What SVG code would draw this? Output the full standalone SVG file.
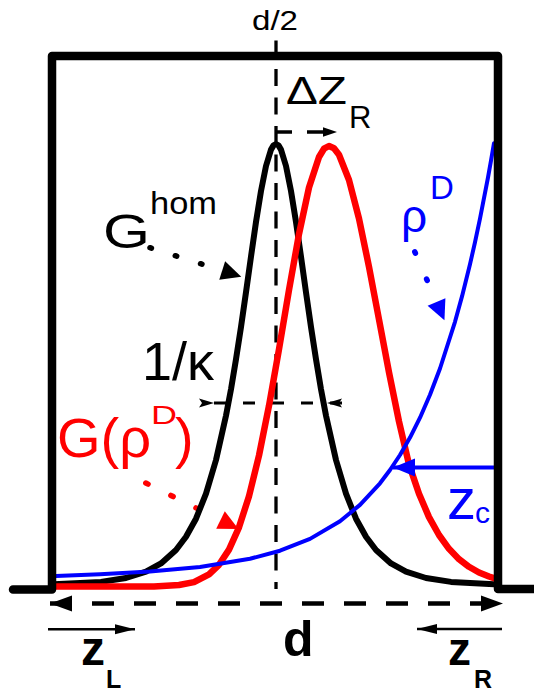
<svg xmlns="http://www.w3.org/2000/svg" width="534" height="693" viewBox="0 0 534 693">
<style>
text{font-family:"Liberation Sans",Arial,sans-serif}
.k{fill:#000}.r{fill:#ff0000}.b{fill:#0000ff}
.bold{font-weight:bold}
.curve{fill:none;stroke-linejoin:round;stroke-linecap:round}
.dash{fill:none;stroke:#000}
.dots{fill:none;stroke-width:5.5;stroke-linecap:round}
</style>
<defs>
<marker id="ahK" markerUnits="userSpaceOnUse" markerWidth="24" markerHeight="24" viewBox="-2 -12 24 24" refX="0" refY="0" orient="auto"><path d="M0,-9.7 L20,0 L0,9.7 Z" fill="#000"/></marker>
<marker id="ahR" markerUnits="userSpaceOnUse" markerWidth="24" markerHeight="24" viewBox="-2 -12 24 24" refX="0" refY="0" orient="auto"><path d="M0,-9.7 L20,0 L0,9.7 Z" fill="#ff0000"/></marker>
<marker id="ahB" markerUnits="userSpaceOnUse" markerWidth="24" markerHeight="24" viewBox="-2 -12 24 24" refX="0" refY="0" orient="auto"><path d="M0,-9.7 L20,0 L0,9.7 Z" fill="#0000ff"/></marker>
<marker id="ahBt" markerUnits="userSpaceOnUse" markerWidth="26" markerHeight="22" viewBox="0 -11 26 22" refX="22" refY="0" orient="auto"><path d="M0,-9 L22,0 L0,9 Z" fill="#0000ff"/></marker>
<marker id="ahD" markerUnits="userSpaceOnUse" markerWidth="26" markerHeight="20" viewBox="0 -10 26 20" refX="22" refY="0" orient="auto-start-reverse"><path d="M0,-8 L22,0 L0,8 Z" fill="#000"/></marker>
<marker id="ahS" markerUnits="userSpaceOnUse" markerWidth="16" markerHeight="12" viewBox="0 -6 16 12" refX="14" refY="0" orient="auto"><path d="M0,-4.7 L14,0 L0,4.7 Z" fill="#000"/></marker>
<marker id="ahT" markerUnits="userSpaceOnUse" markerWidth="22" markerHeight="14" viewBox="0 -7 22 14" refX="20" refY="0" orient="auto-start-reverse"><path d="M0,-5 L20,0 L0,5 Z" fill="#000"/></marker>
<marker id="kIn" markerUnits="userSpaceOnUse" markerWidth="18" markerHeight="12" viewBox="-16 -6 18 12" refX="0" refY="0" orient="auto"><path d="M0,0 L-15,-4.5 L-12,0 L-15,4.5 Z" fill="#000"/></marker>
<marker id="kOut" markerUnits="userSpaceOnUse" markerWidth="18" markerHeight="12" viewBox="-16 -6 18 12" refX="0" refY="0" orient="auto"><path d="M-15,0 L0,-4.5 L-3,0 L0,4.5 Z" fill="#000"/></marker>
</defs>

<g id="connectors">
  <path id="midline" class="dash" d="M276,40.5 V589" stroke-width="3.3" stroke-dasharray="17 11.5"/>
  <path id="shift-arrow" class="dash" d="M276,132 H337" stroke-width="3.3" stroke-dasharray="16 15" marker-end="url(#ahS)"/>
  <path id="width-arrow" class="dash" d="M214,403 H342" stroke-width="3" stroke-dasharray="12 17" marker-start="url(#kIn)" marker-end="url(#kOut)"/>
  <path id="d-arrow" class="dash" d="M50,603.5 H503" stroke-width="4.3" stroke-dasharray="22 20" marker-start="url(#ahD)" marker-end="url(#ahD)"/>
  <path id="zL-arrow" class="dash" d="M48,629.3 H135" stroke-width="2.5" marker-end="url(#ahT)"/>
  <path id="zR-arrow" class="dash" d="M502,629 H417" stroke-width="2.5" marker-end="url(#ahT)"/>
  <path id="ghom-pointer" class="dots" d="M150,247.7 L222.2,270.6" stroke="#000" stroke-dasharray="1.5 25" marker-end="url(#ahK)"/>
  <path id="rho-pointer" class="dots" d="M414.8,251.8 L436.5,302" stroke="#0000ff" stroke-dasharray="1.5 28.2" marker-end="url(#ahB)"/>
  <path id="grho-pointer" class="dots" d="M145.8,483 L220.5,520" stroke="#ff0000" stroke-dasharray="2.5 25.5" marker-end="url(#ahR)"/>
</g>

<g id="curve-Ghom">
  <polyline class="curve" stroke="#000" stroke-width="6" points="54,584.3 101,581.9 126,578 146,571.7 161,563.4 176,550 186,536.8 196,518.7 206,493.7 216,460 226,415.6 231,389.3 236,359.3 241,327 246,292.3 251,256.6 256,222 261,191 266,166 271,149.6 273.5,145.4 276,144 278.5,145.4 281,149.6 286,166 291,191 296,222 301,256.6 306,292.3 311,327 316,359.3 321,389.3 326,415.6 336,460 346,493.7 356,518.7 366,536.8 376,550 391,563.4 406,571.7 426,578 451,581.9 494,584.2"/>
</g>

<g id="curve-Grho">
  <polyline class="curve" stroke="#ff0000" stroke-width="6.5" points="56,586.5 154,586.5 179,585 194,582.1 209,574.4 219,564.8 229,549.6 239,527.3 249,496.2 259,455.5 269,405.7 279,349.2 289,290 299,234 309,187.5 319,157 324,148.7 329,146 334,148.2 339,154.7 349,180 359,218.6 369,266.8 379,319.5 389,372.3 399,421.5 409,464.4 419,493.7 429,517.1 439,535 449,548.8 459,559.2 469,566.8 479,572.5 489,576.5 494,578.2"/>
</g>

<g id="curve-rho">
  <polyline class="curve" stroke="#0000ff" stroke-width="4" points="56,576 100,574.3 150,571.5 200,567 250,558.8 280,550.7 310,538.9 340,521.2 360,504.9 380,483.3 390,470 400,455 410,437.6 420,417.7 430,394.8 440,368.5 455,321.8 462,296.4 470,264.2 475,242.3 480,218.6 488,177.5 491,160.6 494,143.2"/>
</g>

<g id="zc-arrow">
  <path d="M494,467.5 H393" fill="none" stroke="#0000ff" stroke-width="4" marker-end="url(#ahBt)"/>
</g>

<g id="box">
  <path d="M13,589.5 H52 V56 H498 V589 H534" fill="none" stroke="#000" stroke-width="8.5" stroke-linejoin="round" stroke-linecap="round"/>
</g>

<g id="label-d2"><text class="k" x="275" y="30" font-size="27" text-anchor="middle" textLength="46" lengthAdjust="spacingAndGlyphs">d/2</text></g>
<g id="label-dzR">
  <text class="k" x="286" y="104" font-size="38" textLength="61" lengthAdjust="spacingAndGlyphs">ΔZ</text>
  <text class="k" x="349" y="127.5" font-size="31">R</text>
</g>
<g id="label-Ghom">
  <text class="k" x="103" y="247.7" font-size="47.5" textLength="47" lengthAdjust="spacingAndGlyphs">G</text>
  <text class="k" x="150" y="214" font-size="31" textLength="67" lengthAdjust="spacingAndGlyphs">hom</text>
</g>
<g id="label-kappa"><text class="k" x="142" y="380" font-size="54">1/κ</text></g>
<g id="label-Grho">
  <text class="r" x="57" y="457" font-size="56">G(ρ</text>
  <text class="r" x="151" y="424" font-size="26.5" textLength="26" lengthAdjust="spacingAndGlyphs">D</text>
  <text class="r" x="175" y="457" font-size="56">)</text>
</g>
<g id="label-rho">
  <text class="b" x="401" y="232" font-size="46">ρ</text>
  <text class="b" x="430" y="199" font-size="33">D</text>
</g>
<g id="label-zc">
  <text class="b" x="447" y="519" font-size="58">z</text>
  <text class="b" x="475" y="522.5" font-size="30">c</text>
</g>
<g id="label-d"><text class="k bold" x="283" y="656" font-size="50">d</text></g>
<g id="label-zL">
  <text class="k bold" x="81" y="665" font-size="48">z</text>
  <text class="k bold" x="106" y="688" font-size="25">L</text>
</g>
<g id="label-zR">
  <text class="k bold" x="448" y="665" font-size="46">z</text>
  <text class="k bold" x="474" y="688" font-size="25">R</text>
</g>
</svg>
